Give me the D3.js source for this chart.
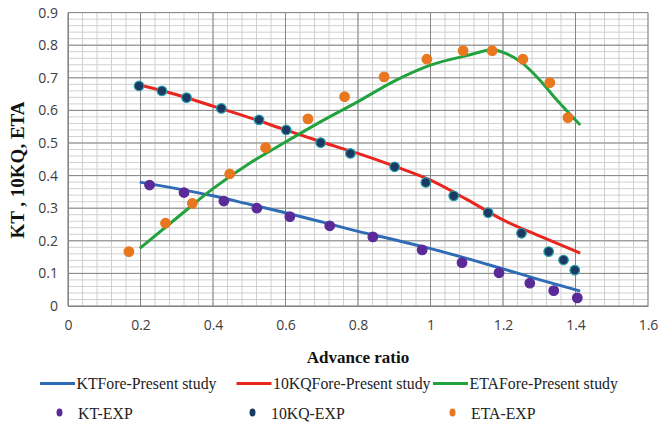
<!DOCTYPE html>
<html>
<head>
<meta charset="utf-8">
<script src="https://cdn.jsdelivr.net/npm/d3@7"></script>
<style>
  html, body { margin: 0; padding: 0; background: #fff; }
  svg { display: block; }
</style>
</head>
<body>
<svg id="chart" width="659" height="425"></svg>
<script>
// Advance ratio (J) sample points of the computed curves
const foreJ     = [0.198, 0.3, 0.4, 0.5, 0.6, 0.7, 0.8, 0.9, 1.0, 1.1, 1.2, 1.3, 1.413];
const ktFore    = [0.380, 0.360, 0.338, 0.312, 0.286, 0.258, 0.229, 0.203, 0.176, 0.146, 0.114, 0.081, 0.046];
const kq10Fore  = [0.678, 0.648, 0.613, 0.578, 0.540, 0.503, 0.468, 0.429, 0.386, 0.327, 0.264, 0.215, 0.162];
const etaJ      = [0.198, 0.3, 0.4, 0.5, 0.6, 0.7, 0.8, 0.9, 1.0, 1.1, 1.17, 1.2, 1.25, 1.3, 1.35, 1.413];
const etaFore   = [0.177, 0.270, 0.360, 0.437, 0.503, 0.567, 0.627, 0.690, 0.739, 0.768, 0.785, 0.778, 0.748, 0.695, 0.630, 0.555];

// Experimental measurements
const ktExpJ    = [0.225, 0.320, 0.430, 0.521, 0.612, 0.722, 0.841, 0.977, 1.087, 1.189, 1.274, 1.340, 1.405];
const ktExp     = [0.371, 0.348, 0.322, 0.300, 0.274, 0.246, 0.212, 0.172, 0.133, 0.102, 0.070, 0.047, 0.025];
const kqExpJ    = [0.196, 0.259, 0.327, 0.423, 0.527, 0.602, 0.697, 0.779, 0.901, 0.987, 1.064, 1.159, 1.251, 1.326, 1.367, 1.398];
const kqExp     = [0.675, 0.660, 0.639, 0.606, 0.571, 0.540, 0.501, 0.468, 0.427, 0.379, 0.338, 0.286, 0.223, 0.167, 0.141, 0.110];
const etaExpJ   = [0.168, 0.269, 0.343, 0.446, 0.545, 0.662, 0.763, 0.872, 0.990, 1.090, 1.170, 1.255, 1.329, 1.379];
const etaExp    = [0.167, 0.254, 0.315, 0.405, 0.486, 0.574, 0.642, 0.703, 0.757, 0.783, 0.783, 0.757, 0.685, 0.578];

const xTicks = [0, 0.2, 0.4, 0.6, 0.8, 1, 1.2, 1.4, 1.6];
const yTicks = [0, 0.1, 0.2, 0.3, 0.4, 0.5, 0.6, 0.7, 0.8, 0.9];

const legendLines = ["KTFore-Present study", "10KQFore-Present study", "ETAFore-Present study"];
const legendDots  = ["KT-EXP", "10KQ-EXP", "ETA-EXP"];

const colors = {
  kt: "#2f6cb5", kq: "#e8251f", eta: "#22a23f",
  ktDot: "#5a2b98", kqDot: "#1b3a63", kqEdge: "#2a9fa8", etaDot: "#e8771f"
};

const svg = d3.select("#chart");

const x = d3.scaleLinear().domain([0, 1.6]).range([68, 648]);
const y = d3.scaleLinear().domain([0, 0.9]).range([306, 12.6]);

const g = svg.append("g");

// minor grid
g.append("g").selectAll("line").data(d3.range(0, 1.6001, 0.04))
  .join("line")
  .attr("x1", d => x(d)).attr("x2", d => x(d))
  .attr("y1", y(0)).attr("y2", y(0.9))
  .attr("stroke", "#d0d0d0").attr("stroke-width", 1);
g.append("g").selectAll("line").data(d3.range(0, 0.9001, 0.02))
  .join("line")
  .attr("x1", x(0)).attr("x2", x(1.6))
  .attr("y1", d => y(d)).attr("y2", d => y(d))
  .attr("stroke", "#d0d0d0").attr("stroke-width", 1);

// major grid
g.append("g").selectAll("line").data(xTicks)
  .join("line")
  .attr("x1", d => x(d)).attr("x2", d => x(d))
  .attr("y1", y(0)).attr("y2", y(0.9))
  .attr("stroke", "#858585").attr("stroke-width", 1);
g.append("g").selectAll("line").data(yTicks)
  .join("line")
  .attr("x1", x(0)).attr("x2", x(1.6))
  .attr("y1", d => y(d)).attr("y2", d => y(d))
  .attr("stroke", "#858585").attr("stroke-width", 1);

// axes
const xAxis = d3.axisBottom(x).tickValues(xTicks).tickSize(0).tickPadding(14)
  .tickFormat(d => d3.format("~g")(d));
const yAxis = d3.axisLeft(y).tickValues(yTicks).tickSize(0).tickPadding(10)
  .tickFormat(d => d3.format("~g")(d));

const gx = svg.append("g").attr("transform", `translate(0,${y(0)})`).call(xAxis);
const gy = svg.append("g").attr("transform", `translate(${x(0)},0)`).call(yAxis);
[gx, gy].forEach(a => {
  a.select(".domain").attr("stroke", "#858585");
  a.selectAll("text").attr("font-family", "'Open Sans', sans-serif")
    .attr("font-size", 14).attr("fill", "#404040");
});

// curves
const seriesLines = [
  { xs: foreJ, ys: ktFore, c: colors.kt },
  { xs: foreJ, ys: kq10Fore, c: colors.kq },
  { xs: etaJ, ys: etaFore, c: colors.eta }
];
const line = d3.line().x(d => x(d[0])).y(d => y(d[1])).curve(d3.curveMonotoneX);
seriesLines.forEach(s => {
  svg.append("path")
    .datum(s.xs.map((v, i) => [v, s.ys[i]]))
    .attr("d", line)
    .attr("fill", "none")
    .attr("stroke", s.c)
    .attr("stroke-width", 3);
});

// experimental points
const seriesDots = [
  { xs: ktExpJ, ys: ktExp, c: colors.ktDot, e: colors.ktDot },
  { xs: kqExpJ, ys: kqExp, c: colors.kqDot, e: colors.kqEdge },
  { xs: etaExpJ, ys: etaExp, c: colors.etaDot, e: colors.etaDot }
];
seriesDots.forEach(s => {
  svg.append("g").selectAll("circle")
    .data(s.xs.map((v, i) => [v, s.ys[i]]))
    .join("circle")
    .attr("cx", d => x(d[0])).attr("cy", d => y(d[1]))
    .attr("r", 4.8)
    .attr("fill", s.c)
    .attr("stroke", s.e).attr("stroke-width", 1.2);
});

// axis titles
const serif = "'Liberation Serif', 'Times New Roman', serif";
svg.append("text")
  .attr("x", 358).attr("y", 363)
  .attr("text-anchor", "middle")
  .attr("font-family", serif)
  .attr("font-weight", "bold").attr("font-size", 17)
  .attr("fill", "#111")
  .text("Advance ratio");

svg.append("text")
  .attr("transform", "translate(24,170) rotate(-90)")
  .attr("text-anchor", "middle")
  .attr("font-family", serif)
  .attr("font-weight", "bold").attr("font-size", 19)
  .attr("fill", "#111")
  .text("KT , 10KQ, ETA");

// legend
const lineX = [40, 236.5, 433];
legendLines.forEach((t, i) => {
  svg.append("line")
    .attr("x1", lineX[i]).attr("x2", lineX[i] + 35)
    .attr("y1", 383.5).attr("y2", 383.5)
    .attr("stroke", seriesLines[i].c).attr("stroke-width", 3);
  svg.append("text")
    .attr("x", lineX[i] + 36.5).attr("y", 388.5)
    .attr("font-family", serif).attr("font-size", 15.8).attr("fill", "#222")
    .text(t);
});
const dotX = [59.5, 252.5, 452.5];
legendDots.forEach((t, i) => {
  svg.append("ellipse")
    .attr("cx", dotX[i]).attr("cy", 412.5)
    .attr("rx", 3).attr("ry", 4)
    .attr("fill", seriesDots[i].c);
  svg.append("text")
    .attr("x", dotX[i] + 18.5).attr("y", 418.5)
    .attr("font-family", serif).attr("font-size", 15.8).attr("fill", "#222")
    .text(t);
});
</script>
</body>
</html>
